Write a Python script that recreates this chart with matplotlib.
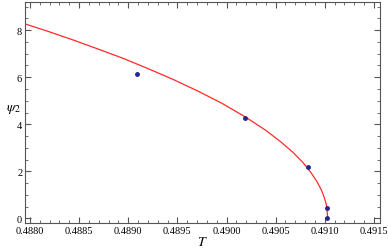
import numpy as np
import matplotlib.pyplot as plt
from matplotlib.ticker import MultipleLocator

# points simules
T_pts = [0.48909, 0.49019, 0.49083, 0.49102, 0.49102]
psi_pts = [6.13, 4.26, 2.17, 0.43, 0.0]

# courbe rouge
T_curve = [0.48795, 0.48820, 0.48845, 0.48870, 0.48895, 0.48920, 0.48945, 0.48970,
           0.48995, 0.49020, 0.49040, 0.49055, 0.49068, 0.49078, 0.49086, 0.49092,
           0.49096, 0.49099, 0.49101, 0.49102, 0.49103]
psi_curve = [8.27, 7.93, 7.57, 7.19, 6.80, 6.37, 5.92, 5.43, 4.90, 4.29, 3.74, 3.26,
             2.79, 2.36, 1.94, 1.56, 1.25, 0.94, 0.67, 0.47, 0.0]

plt.rcParams['font.family'] = ['Liberation Serif', 'DejaVu Serif']
plt.rcParams['mathtext.fontset'] = 'stix'

fig = plt.figure(figsize=(3.88, 2.51), dpi=100)
ax = fig.add_axes([0.0644, 0.1076, 0.9146, 0.8804])

ax.plot(T_curve, psi_curve, color='#ff2a2a', lw=0.9)
ax.plot(T_pts, psi_pts, 'o', color='#26268c', ms=2.5)

ax.set_xlim(0.48795, 0.49156)
ax.set_ylim(-0.2, 9.2)
ax.xaxis.set_major_locator(MultipleLocator(0.0005))
ax.xaxis.set_minor_locator(MultipleLocator(0.0001))
ax.yaxis.set_major_locator(MultipleLocator(2))
ax.yaxis.set_minor_locator(MultipleLocator(0.5))
ax.set_xticklabels([f"{v:.4f}" for v in ax.get_xticks()])
ax.tick_params(which='both', direction='in', top=True, right=True, labelsize=7.5,
               color='#555555', pad=2)
ax.tick_params(which='major', length=4, width=0.8)
ax.tick_params(which='minor', length=2, width=0.6)
for s in ax.spines.values():
    s.set_color('#555555')
    s.set_linewidth(0.8)

ax.set_xlabel('$T$', fontsize=10, labelpad=0)
ax.set_ylabel(r'$\psi_2$', fontsize=10, rotation=0)
ax.yaxis.set_label_coords(-0.034, 0.49)

plt.savefig('out.png', dpi=100)
